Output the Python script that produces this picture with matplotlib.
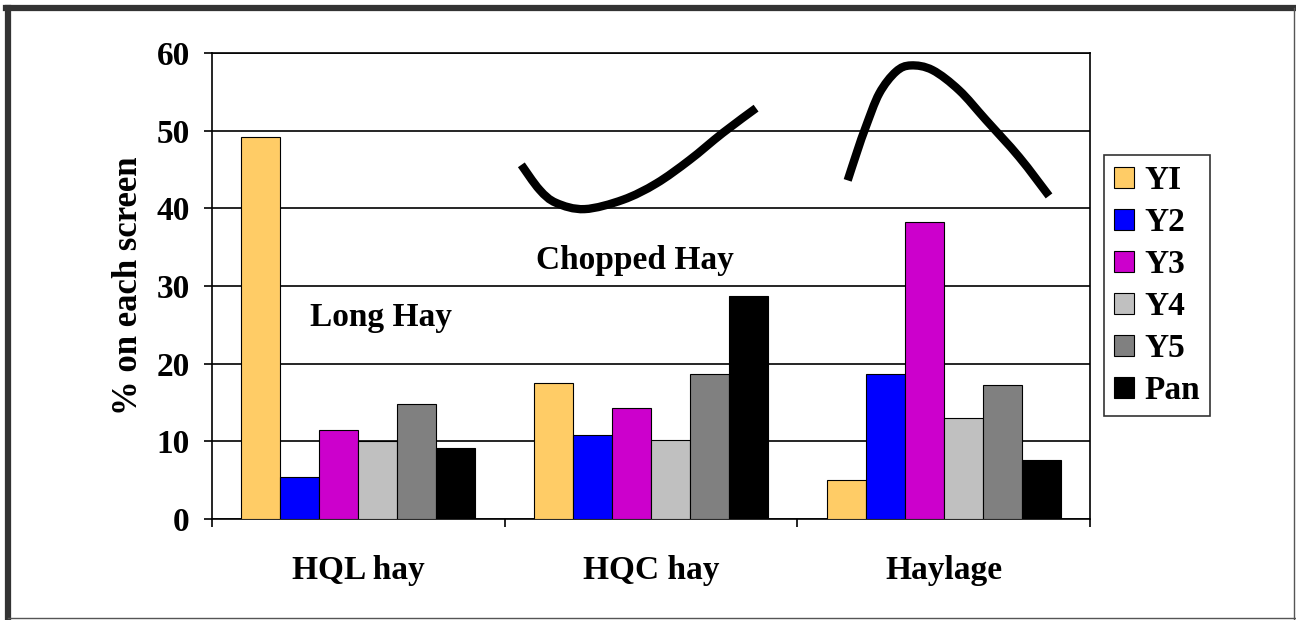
import numpy as np
import matplotlib.pyplot as plt
from matplotlib.lines import Line2D
from matplotlib.path import Path
from matplotlib.patches import PathPatch

plt.rcParams['font.family'] = ['Liberation Serif', 'DejaVu Serif']
plt.rcParams['font.weight'] = 'bold'

# Data
categories = ['HQL hay', 'HQC hay', 'Haylage']
series = ['YI', 'Y2', 'Y3', 'Y4', 'Y5', 'Pan']
values = {
    'YI':  [49.2, 17.5, 5.0],
    'Y2':  [5.4, 10.8, 18.7],
    'Y3':  [11.5, 14.3, 38.2],
    'Y4':  [10.0, 10.2, 13.0],
    'Y5':  [14.8, 18.7, 17.2],
    'Pan': [9.1, 28.7, 7.6],
}
colors = ['#FFCC66', '#0000FF', '#CC00CC', '#C0C0C0', '#808080', '#000000']
yticks = [0, 10, 20, 30, 40, 50, 60]

# hand drawn curves (category units, %)
chopped_x = [0.557, 0.619, 0.676, 0.773, 0.904, 1.018, 1.131, 1.245, 1.359]
chopped_y = [45.6, 42.4, 40.7, 39.9, 41.1, 43.2, 46.2, 49.7, 52.9]
haylage_x = [1.672, 1.706, 1.734, 1.780, 1.837, 1.888, 1.962, 2.053, 2.144, 2.258, 2.360]
haylage_y = [43.6, 47.5, 50.5, 54.8, 57.6, 58.4, 57.8, 55.2, 51.4, 46.6, 41.6]


def smooth_path(xs, ys, trans):
    # catmull-rom through the points, in display space, as bezier segments
    pts = trans.transform(np.column_stack([xs, ys]))
    verts = [pts[0]]
    codes = [Path.MOVETO]
    n = len(pts)
    for i in range(n - 1):
        p0 = pts[max(i - 1, 0)]
        p1 = pts[i]
        p2 = pts[i + 1]
        p3 = pts[min(i + 2, n - 1)]
        c1 = p1 + (p2 - p0) / 6.0
        c2 = p2 - (p3 - p1) / 6.0
        verts += [c1, c2, p2]
        codes += [Path.CURVE4] * 3
    return Path(verts, codes)


fig = plt.figure(figsize=(12.96, 6.2), dpi=100)
ax = fig.add_axes([212/1296, 1 - 519/620, (1090-212)/1296, (519-53)/620])

x = np.arange(len(categories))
w = 0.8 / len(series)
for i, s in enumerate(series):
    ax.bar(x - 0.4 + w*(i+0.5), values[s], width=w, color=colors[i],
           edgecolor='black', linewidth=0.8, label=s, zorder=3)

ax.set_xlim(-0.5, 2.5)
ax.set_ylim(0, 60)
ax.set_yticks(yticks)
ax.yaxis.grid(True, color='black', linewidth=1.2, zorder=0)
ax.set_axisbelow(True)
for sp in ax.spines.values():
    sp.set_linewidth(1.2)

ax.set_xticks(x)
ax.set_xticklabels(categories, fontsize=24, fontweight='bold')
ax.set_xticks([-0.5, 0.5, 1.5, 2.5], minor=True)
ax.tick_params(axis='x', which='major', length=0, pad=26)
ax.tick_params(axis='x', which='minor', length=6, width=1.2, direction='out')
ax.tick_params(axis='y', length=6, width=1.2, pad=10, labelsize=24)
for lab in ax.get_yticklabels():
    lab.set_fontweight('bold')
ax.set_ylabel('% on each screen', fontsize=25, fontweight='bold', labelpad=8)

# curves drawn after limits are fixed
fig.canvas.draw()
for cx, cy in [(chopped_x, chopped_y), (haylage_x, haylage_y)]:
    p = smooth_path(cx, cy, ax.transData)
    fig.add_artist(PathPatch(p, transform=None, facecolor='none', edgecolor='black',
                             linewidth=6, capstyle='butt', zorder=5))

ax.text(0.077, 25.9, 'Long Hay', fontsize=24, fontweight='bold', ha='center', va='center', zorder=6)
ax.text(0.944, 33.3, 'Chopped Hay', fontsize=24, fontweight='bold', ha='center', va='center', zorder=6)

leg = fig.legend(loc='upper left', bbox_to_anchor=(1104/1296, 1 - 155/620),
                 fontsize=24, frameon=True, fancybox=False, edgecolor='black',
                 handlelength=0.6, handleheight=0.6, handletextpad=0.3,
                 labelspacing=0.33, borderpad=0.3, borderaxespad=0)
leg.get_frame().set_linewidth(1.2)
for t in leg.get_texts():
    t.set_fontweight('bold')

# outer frame
fig.add_artist(Line2D([8/1296, 8/1296], [0, 1 - 8/620], transform=fig.transFigure, color='#333333', linewidth=4.5))
fig.add_artist(Line2D([6/1296, 1], [1 - 8/620, 1 - 8/620], transform=fig.transFigure, color='#333333', linewidth=4.5))
fig.add_artist(Line2D([1294/1296, 1294/1296], [0, 1 - 8/620], transform=fig.transFigure, color='#555555', linewidth=1))
fig.add_artist(Line2D([8/1296, 1], [2/620, 2/620], transform=fig.transFigure, color='#555555', linewidth=1))

fig.savefig('out.png', dpi=100)
